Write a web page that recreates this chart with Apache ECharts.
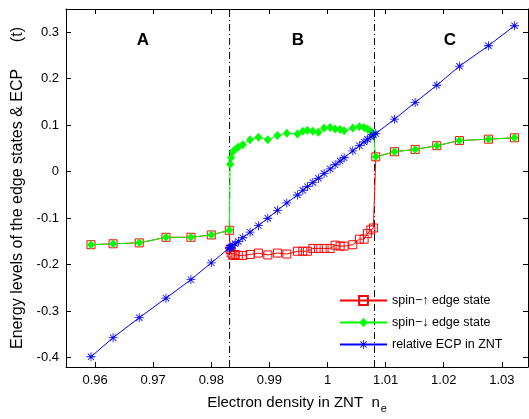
<!DOCTYPE html>
<html>
<head>
<meta charset="utf-8">
<script src="https://cdn.jsdelivr.net/npm/echarts@6/dist/echarts.min.js"></script>
<style>
  html, body { margin: 0; padding: 0; background: #fff; }
  #chart { width: 529px; height: 419px; }
</style>
</head>
<body>
<div id="chart"></div>
<script>
// electron density n_e, region A / B / C
const densityA = [0.9593, 0.9631, 0.9676, 0.9722, 0.9765, 0.9800, 0.9831];
const densityB = [0.98324, 0.98341, 0.98370, 0.98410, 0.98466, 0.98542, 0.98668, 0.98811, 0.98973,
  0.99138, 0.99300, 0.99482, 0.99575, 0.99654, 0.99747, 0.99843, 0.99941, 1.00045, 1.00131,
  1.00217, 1.00286, 1.00435, 1.00549, 1.00630, 1.00687, 1.00745, 1.00790];
const densityC = [1.00831, 1.01152, 1.01508, 1.01881, 1.02270, 1.02769, 1.03217];

const spinUpA = [-0.157, -0.155, -0.153, -0.141, -0.141, -0.136, -0.126];
const spinUpB = [-0.167, -0.175, -0.180, -0.178, -0.180, -0.180, -0.178, -0.175, -0.179,
  -0.175, -0.177, -0.171, -0.171, -0.171, -0.165, -0.165, -0.165, -0.165, -0.158,
  -0.160, -0.160, -0.157, -0.145, -0.145, -0.133, -0.125, -0.121];
const spinUpC = [0.032, 0.043, 0.048, 0.056, 0.067, 0.070, 0.073];

const spinDownA = [-0.157, -0.155, -0.153, -0.141, -0.141, -0.136, -0.126];
const spinDownB = [0.016, 0.030, 0.043, 0.048, 0.053, 0.058, 0.069, 0.074, 0.069,
  0.078, 0.083, 0.081, 0.087, 0.089, 0.087, 0.085, 0.094, 0.095, 0.092,
  0.091, 0.088, 0.094, 0.097, 0.095, 0.092, 0.087, 0.081];
const spinDownC = [0.032, 0.043, 0.048, 0.056, 0.067, 0.070, 0.073];

const ecpA = [-0.398, -0.357, -0.314, -0.272, -0.232, -0.196, -0.164];
const ecpB = [-0.164, -0.162, -0.159, -0.155, -0.150, -0.142, -0.130, -0.116, -0.100,
  -0.083, -0.067, -0.050, -0.040, -0.032, -0.023, -0.014, -0.004, 0.006, 0.015,
  0.023, 0.030, 0.045, 0.056, 0.064, 0.070, 0.075, 0.080];
const ecpC = [0.082, 0.113, 0.149, 0.186, 0.227, 0.271, 0.314];

const xTicks = [0.96, 0.97, 0.98, 0.99, 1.0, 1.01, 1.02, 1.03];
const yTicks = [-0.4, -0.3, -0.2, -0.1, 0, 0.1, 0.2, 0.3];
const boundaries = [0.98315, 1.00809];
const regionNames = ['A', 'B', 'C'];

const xMin = 0.955, xMax = 1.0345, yMin = -0.42, yMax = 0.35;

const density = densityA.concat(densityB, densityC);
const pairs = (ys) => density.map((x, i) => [x, ys[i]]);

const asterisk = 'path://M-0.9,-10L0.9,-10L0.9,10L-0.9,10Z M-10,-0.9L10,-0.9L10,0.9L-10,0.9Z ' +
  'M-7.7,-6.4L-6.4,-7.7L7.7,6.4L6.4,7.7Z M6.4,-7.7L7.7,-6.4L-6.4,7.7L-7.7,6.4Z';

const font = 'Liberation Sans, Arial, sans-serif';
const fmt = (v) => (Math.abs(v) < 1e-9 ? '0' : String(+v.toFixed(2)));

const chart = echarts.init(document.getElementById('chart'), null, { renderer: 'canvas' });

const tickAxis = {
  axisLine: { show: true, onZero: false, lineStyle: { color: '#000', width: 1 } },
  axisTick: { show: true, inside: true, length: 5, lineStyle: { color: '#000' } },
  splitLine: { show: false },
};

// dash-dot boundary lines between regions
const boundarySeries = boundaries.map((b) => ({
  type: 'line',
  data: [[b, yMin], [b, yMax]],
  symbol: 'none', silent: true,
  lineStyle: { color: '#000', width: 1, type: [7, 3, 1, 3] },
  z: 1,
}));

const option = {
  animation: false,
  backgroundColor: '#fff',
  grid: { left: 66, right: 1, top: 9, bottom: 47 },
  textStyle: { fontFamily: font },
  xAxis: [
    Object.assign({}, tickAxis, {
      type: 'value', min: xMin, max: xMax, position: 'bottom',
      axisTick: Object.assign({}, tickAxis.axisTick, { customValues: xTicks }),
      axisLabel: { customValues: xTicks, formatter: fmt, color: '#000', fontSize: 13, margin: 7, fontFamily: font },
      name: '{t|Electron density in ZNT  n}{s|e}',
      nameLocation: 'middle', nameGap: 24,
      nameTextStyle: {
        rich: {
          t: { fontSize: 15, color: '#000', fontFamily: font },
          s: { fontSize: 11, color: '#000', fontFamily: font, padding: [12, 0, 0, 1] },
        },
      },
    }),
    Object.assign({}, tickAxis, {
      type: 'value', min: xMin, max: xMax, position: 'top',
      axisTick: Object.assign({}, tickAxis.axisTick, { customValues: xTicks }),
      axisLabel: { show: false },
    }),
  ],
  yAxis: [
    Object.assign({}, tickAxis, {
      type: 'value', min: yMin, max: yMax, position: 'left',
      axisTick: Object.assign({}, tickAxis.axisTick, { customValues: yTicks }),
      axisLabel: { customValues: yTicks, formatter: fmt, color: '#000', fontSize: 13, margin: 7, fontFamily: font },
      name: 'Energy levels of the edge states & ECP      (t)',
      nameLocation: 'middle', nameGap: 40,
      nameTextStyle: { fontSize: 16, color: '#000', fontFamily: font },
    }),
    Object.assign({}, tickAxis, {
      type: 'value', min: yMin, max: yMax, position: 'right',
      axisTick: Object.assign({}, tickAxis.axisTick, { customValues: yTicks }),
      axisLabel: { show: false },
    }),
  ],
  legend: {
    orient: 'vertical',
    left: 334, top: 289,
    itemWidth: 47, itemHeight: 11, itemGap: 9,
    textStyle: { fontSize: 12.5, color: '#000', fontFamily: font },
    data: ['spin−↑ edge state', 'spin−↓ edge state', 'relative ECP in ZNT'],
  },
  series: [
    {
      name: 'spin−↑ edge state', type: 'line',
      data: pairs(spinUpA.concat(spinUpB, spinUpC)),
      symbol: 'rect', symbolSize: 8,
      itemStyle: { color: 'rgba(0,0,0,0)', borderColor: '#ff0000', borderWidth: 1 },
      lineStyle: { color: '#ff0000', width: 1 },
      z: 2,
    },
    {
      name: 'spin−↓ edge state', type: 'line',
      data: pairs(spinDownA.concat(spinDownB, spinDownC)),
      symbol: 'diamond', symbolSize: [8, 9],
      itemStyle: { color: '#00ff00', borderColor: '#00ff00', borderWidth: 0 },
      lineStyle: { color: '#00ff00', width: 1 },
      z: 3,
    },
    {
      name: 'relative ECP in ZNT', type: 'line',
      data: pairs(ecpA.concat(ecpB, ecpC)),
      symbol: asterisk, symbolSize: 9,
      itemStyle: { color: '#0000ff' },
      lineStyle: { color: '#0000ff', width: 1 },
      z: 4,
    },
  ].concat(boundarySeries),
  graphic: regionNames.map((t, i) => ({
    type: 'text',
    x: [143, 298, 450][i], y: 40,
    style: { text: t, fill: '#000', font: 'bold 17px ' + font, align: 'center', verticalAlign: 'middle' },
  })),
};

chart.setOption(option);
</script>
</body>
</html>
